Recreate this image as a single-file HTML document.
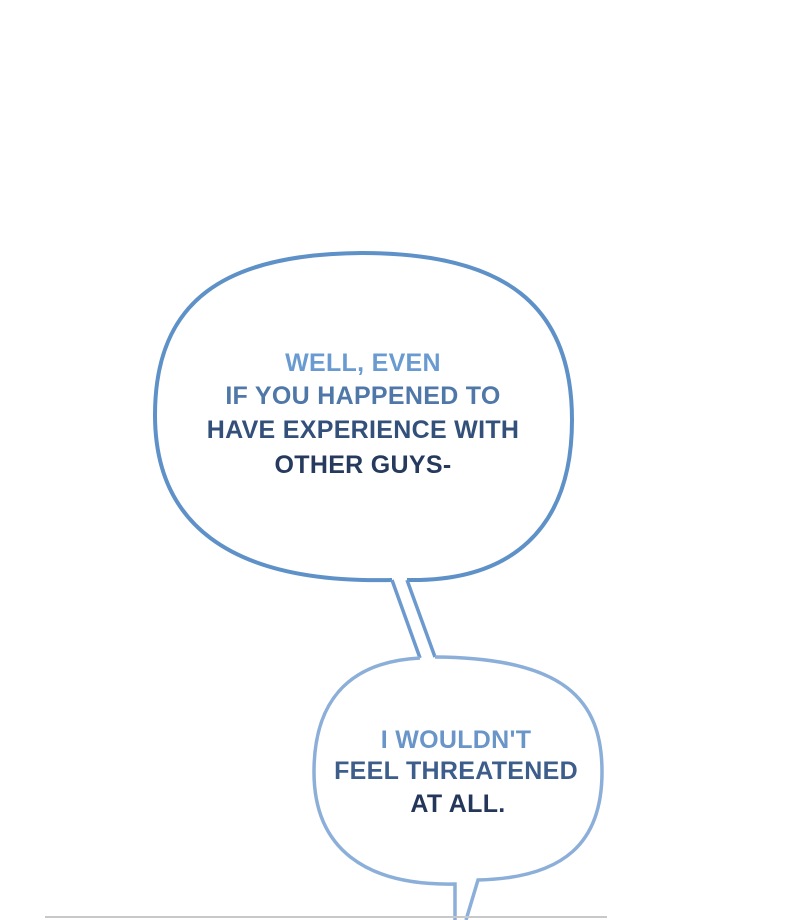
<!DOCTYPE html>
<html><head><style>
html,body{margin:0;padding:0;background:#fff;}
svg{display:block}
text{font-family:"Liberation Sans",sans-serif;font-weight:bold;font-size:25px;letter-spacing:0.3px;text-anchor:middle}
</style></head><body>
<svg width="800" height="920" viewBox="0 0 800 920" xmlns="http://www.w3.org/2000/svg">
<rect width="800" height="920" fill="#fff"/>
<path d="M392,580 C225,584 155,520 155,415 C155,300 225,254 362,253 C505,253 572,305 572,420 C572,530 510,582 407,580" fill="#fff" stroke="#5e91c8" stroke-width="4"/>
<path d="M392,580 L420,658 M407,580 L435,657" stroke="#6d9ace" stroke-width="3.5" fill="none"/>
<path d="M420,658 C345,662 314,705 314,772 C314,848 365,886 455,884 L455,920 M466,920 L478,880 C565,878 602,842 602,772 C602,700 565,658 435,657" fill="#fff" stroke="#8cafd9" stroke-width="3.5"/>
<rect x="45" y="916" width="562" height="2" fill="#c8c8c8"/>
<text x="363" y="371" fill="#6a9bd0">WELL, EVEN</text>
<text x="363" y="404" fill="#4f78a8">IF YOU HAPPENED TO</text>
<text x="363" y="438" fill="#33507a">HAVE EXPERIENCE WITH</text>
<text x="363" y="473" fill="#263a5e">OTHER GUYS-</text>
<text x="456" y="748" fill="#6a95c8">I WOULDN'T</text>
<text x="456" y="779" fill="#3d5d8a">FEEL THREATENED</text>
<text x="458" y="812" fill="#24365a">AT ALL.</text>
</svg>
</body></html>
